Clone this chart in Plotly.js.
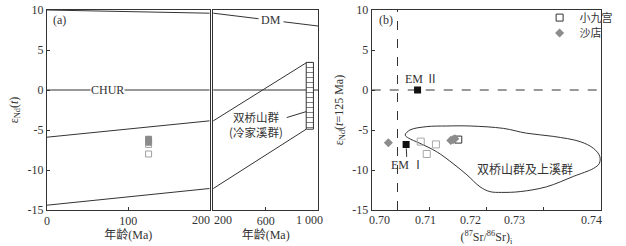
<!DOCTYPE html>
<html>
<head>
<meta charset="utf-8">
<script src="https://cdn.plot.ly/plotly-3.0.1.min.js"></script>
<style>html,body{margin:0;padding:0;background:#fff;}#chart{width:626px;height:246px;}</style>
</head>
<body>
<div id="chart"></div>
<script>
// ---------- data: panel (a) evolution lines ----------
const dmAge = [0, 1000];
const dmEps = [10, 8];
const churAge = [0, 1000];
const churEps = [0, 0];
const upperAge = [0, 910];
const upperEps = [-5.9, 3.4];
const lowerAge = [0, 910];
const lowerEps = [-14.4, -4.9];
const boxAge = [910, 965, 965, 910, 910];
const boxEps = [3.45, 3.45, -4.9, -4.9, 3.45];
const sampleAge = 125;

// ---------- data: samples ----------
const shadianSr = [0.7029, 0.7138, 0.7142, 0.7145];
const shadianEps = [-6.6, -6.3, -6.2, -6.1];
const xjgSr = [0.70855, 0.7112, 0.7096];
const xjgEps = [-6.45, -6.8, -8.0];
const xjgSrDark = [0.7151];
const xjgEpsDark = [-6.2];

// ---------- data: end members & reference lines ----------
const emSr = [0.706, 0.708];
const emEps = [-6.8, 0];
const emLabels = ['EM Ⅰ', 'EM Ⅱ'];
const bseSr = 0.7045;
const srRange = [0.70, 0.74];
const epsRange = [-15, 10];
const ageRangeA = [0, 200];
const ageRangeB = [200, 1000];

// ---------- data: field of 双桥山群及上溪群 ----------
const fieldSr = [0.70584, 0.70667, 0.7096, 0.7131, 0.7172, 0.7230, 0.7270, 0.7317, 0.7364, 0.7387, 0.7398, 0.7397, 0.7387, 0.7352, 0.7305, 0.7259, 0.7227, 0.7206, 0.7189, 0.7166, 0.7142, 0.7113, 0.7084, 0.7064, 0.70584];
const fieldEps = [-5.63, -5.0, -4.58, -4.5, -4.5, -4.8, -5.4, -5.8, -6.46, -7.3, -8.3, -9.2, -9.8, -10.8, -12.1, -12.7, -12.8, -12.7, -12.1, -10.6, -9.2, -7.7, -6.66, -6.0, -5.63];

// ---------- tick labels ----------
const yTickVals = [-15, -10, -5, 0, 5, 10];
const yTickText = ['-15', '-10', '-5', '0', '5', '10'];
const xaTickVals = [0, 100, 200];
const xaTickText = ['0', '100', '200'];
const xbTickVals = [200, 600, 1000];
const xbTickText = ['200', '600', '1 000'];
const srTickVals = [0.70, 0.71, 0.72, 0.73, 0.74];
const srTickText = ['0.70', '0.71', '0.72', '0.73', '0.74'];

const SERIF = 'Liberation Serif, Noto Sans CJK SC, serif';
const CJK = 'Noto Sans CJK SC, sans-serif';
const TXT = '#333';
const LINE = '#333';
const GRAY = '#8c8c8c';

const traces = [];
function lineOn(xa, ya, xs, ys, extra) {
  traces.push(Object.assign({type: 'scatter', mode: 'lines', x: xs, y: ys, xaxis: xa, yaxis: ya,
    line: {color: LINE, width: 1}, showlegend: false, hoverinfo: 'skip'}, extra || {}));
}
[['x', 'y'], ['x2', 'y2']].forEach(([xa, ya]) => {
  lineOn(xa, ya, dmAge, dmEps);
  lineOn(xa, ya, churAge, churEps);
  lineOn(xa, ya, upperAge, upperEps);
  lineOn(xa, ya, lowerAge, lowerEps);
});
traces.push({type: 'scatter', mode: 'lines', x: boxAge, y: boxEps, xaxis: 'x2', yaxis: 'y2',
  fill: 'toself', fillcolor: 'rgba(0,0,0,0)',
  fillpattern: {shape: '-', size: 5, solidity: 0.15, fgcolor: '#555', bgcolor: 'white'},
  line: {color: LINE, width: 1}, showlegend: false, hoverinfo: 'skip'});
traces.push({type: 'scatter', mode: 'markers', x: xjgEps.concat(xjgEpsDark).map(() => sampleAge),
  y: xjgEps.concat(xjgEpsDark), xaxis: 'x', yaxis: 'y', showlegend: false,
  marker: {symbol: 'square-open', size: 6, color: '#a0a0a0', line: {width: 1}}});
traces.push({type: 'scatter', mode: 'markers', x: shadianEps.map(() => sampleAge), y: shadianEps,
  xaxis: 'x', yaxis: 'y', showlegend: false,
  marker: {symbol: 'square', size: 6, color: '#8a8a8a'}});

traces.push({type: 'scatter', mode: 'lines', x: [bseSr, bseSr], y: epsRange, xaxis: 'x3', yaxis: 'y3',
  line: {color: LINE, width: 1, dash: 'dash'}, showlegend: false, hoverinfo: 'skip'});
traces.push({type: 'scatter', mode: 'lines', x: srRange, y: churEps, xaxis: 'x3', yaxis: 'y3',
  line: {color: LINE, width: 1, dash: 'dash'}, showlegend: false, hoverinfo: 'skip'});
traces.push({type: 'scatter', mode: 'lines', x: fieldSr, y: fieldEps, xaxis: 'x3', yaxis: 'y3',
  line: {color: LINE, width: 1, shape: 'spline', smoothing: 1}, showlegend: false, hoverinfo: 'skip'});
traces.push({type: 'scatter', mode: 'markers', x: xjgSr, y: xjgEps, xaxis: 'x3', yaxis: 'y3',
  showlegend: false, marker: {symbol: 'square-open', size: 7, color: '#a8a8a8', line: {width: 1}}});
traces.push({type: 'scatter', mode: 'markers', name: '小九宫', x: xjgSrDark, y: xjgEpsDark, xaxis: 'x3', yaxis: 'y3',
  legend: 'legend', marker: {symbol: 'square-open', size: 7, color: '#333', line: {width: 1}}});
traces.push({type: 'scatter', mode: 'markers', name: '沙店', x: shadianSr, y: shadianEps, xaxis: 'x3', yaxis: 'y3',
  legend: 'legend2', marker: {symbol: 'diamond', size: 7, color: GRAY}});
traces.push({type: 'scatter', mode: 'markers', x: emSr, y: emEps, xaxis: 'x3', yaxis: 'y3', showlegend: false,
  marker: {symbol: 'square', size: 7, color: '#111'}});

const tickFont = {family: SERIF, size: 12, color: TXT};
const axBase = {showline: true, mirror: true, linecolor: LINE, linewidth: 1, showgrid: false, zeroline: false,
  ticks: 'inside', ticklen: 3, tickcolor: LINE, tickangle: 0, tickfont: tickFont};
const yBase = Object.assign({}, axBase, {range: epsRange, tickvals: yTickVals, ticktext: yTickText, domain: [0, 1]});
const titleFont = {family: SERIF, size: 12, color: TXT};

const domA = [0.0751, 0.3347], domB = [0.3407, 0.508], domC = [0.5938, 0.96];

// tick labels that sit off-centre from their tick in the original figure (pixel shift along the axis)
const shiftedLabels = [
  {xref: 'x', yref: 'y domain', val: xaTickVals[2], text: xaTickText[2], shift: -9},
  {xref: 'x2', yref: 'y2 domain', val: xbTickVals[0], text: xbTickText[0], shift: 10},
  {xref: 'x2', yref: 'y2 domain', val: xbTickVals[2], text: xbTickText[2], shift: -9},
  {xref: 'x3', yref: 'y3 domain', val: srTickVals[0], text: srTickText[0], shift: 8},
  {xref: 'x3', yref: 'y3 domain', val: srTickVals[1], text: srTickText[1], shift: -4},
  {xref: 'x3', yref: 'y3 domain', val: srTickVals[2], text: srTickText[2], shift: -16},
  {xref: 'x3', yref: 'y3 domain', val: srTickVals[3], text: srTickText[3], shift: -29},
  {xref: 'x3', yref: 'y3 domain', val: srTickVals[4], text: srTickText[4], shift: -9}
];
const blankShifted = (xref, vals, texts) => texts.map((t, i) =>
  shiftedLabels.some(s => s.xref === xref && s.val === vals[i]) ? '\u00a0' : t);

const layout = {
  width: 626, height: 246,
  margin: {l: 0, r: 0, t: 10, b: 36},
  paper_bgcolor: 'white', plot_bgcolor: 'white',
  showlegend: true,
  xaxis: Object.assign({}, axBase, {domain: domA, range: ageRangeA, tickvals: xaTickVals, anchor: 'y',
    ticktext: blankShifted('x', xaTickVals, xaTickText),
    title: {text: '年龄(Ma)', font: titleFont, standoff: 2}}),
  xaxis2: Object.assign({}, axBase, {domain: domB, range: ageRangeB, tickvals: xbTickVals, anchor: 'y2',
    ticktext: blankShifted('x2', xbTickVals, xbTickText),
    title: {text: '年龄(Ma)', font: titleFont, standoff: 2}}),
  xaxis3: Object.assign({}, axBase, {domain: domC, range: srRange, tickvals: srTickVals, anchor: 'y3',
    ticktext: blankShifted('x3', srTickVals, srTickText),
    title: {text: '(<sup>87</sup>Sr/<sup>86</sup>Sr)<sub>i</sub>', font: titleFont, standoff: 12}}),
  yaxis: Object.assign({}, yBase, {anchor: 'x',
    title: {text: 'ε<sub>Nd</sub>(<i>t</i>)', font: titleFont, standoff: 6}}),
  yaxis2: Object.assign({}, yBase, {anchor: 'x2', showticklabels: false, ticks: ''}),
  yaxis3: Object.assign({}, yBase, {anchor: 'x3',
    title: {text: 'ε<sub>Nd</sub>(<i>t</i>=125 Ma)', font: titleFont, standoff: 6}})
};

const annFont = {family: SERIF, size: 12, color: TXT};
layout.annotations = shiftedLabels.map(s => ({
  xref: s.xref, yref: s.yref, x: s.val, y: 0, yanchor: 'top', yshift: -2, xshift: s.shift,
  text: s.text, showarrow: false, font: tickFont, borderpad: 0
})).concat([
  {xref: 'x domain', yref: 'y domain', x: 0.025, y: 0.95, xanchor: 'left', yanchor: 'middle', text: '(a)', showarrow: false, font: annFont},
  {xref: 'x3 domain', yref: 'y3 domain', x: 0.023, y: 0.95, xanchor: 'left', yanchor: 'middle', text: '(b)', showarrow: false, font: annFont},
  {xref: 'x', yref: 'y', x: 75, y: 0, text: 'CHUR', showarrow: false, bgcolor: 'white', borderpad: 0, font: annFont},
  {xref: 'x2', yref: 'y2', x: 640, y: 8.75, text: 'DM', showarrow: false, bgcolor: 'white', borderpad: 2, font: annFont},
  {xref: 'x2', yref: 'y2', x: 526, y: -4.25, text: '双桥山群<br>(冷家溪群)', showarrow: false,
    font: {family: CJK, size: 11.5, color: TXT}},
  {xref: 'x2', yref: 'y2', x: 910, y: -2.7, axref: 'x2', ayref: 'y2', ax: 750, ay: -3.5, text: '',
    showarrow: true, arrowhead: 0, arrowwidth: 1, arrowcolor: LINE, standoff: 0, startstandoff: 0},
  {xref: 'x3', yref: 'y3', x: emSr[1], y: emEps[1], text: emLabels[1], showarrow: false, yshift: 11, xshift: 4, font: annFont},
  {xref: 'x3', yref: 'y3', x: emSr[0], y: emEps[0], text: emLabels[0], showarrow: true, arrowhead: 0, arrowwidth: 1,
    arrowcolor: LINE, ax: 1, ay: 21, standoff: 4, font: annFont},
  {xref: 'x3', yref: 'y3', x: 0.7268, y: -9.75, text: '双桥山群及上溪群', showarrow: false,
    font: {family: CJK, size: 12, color: TXT}}
]);

const legBase = {xanchor: 'left', yanchor: 'middle', bgcolor: 'rgba(0,0,0,0)',
  font: {family: CJK, size: 11, color: TXT}, itemwidth: 30, borderwidth: 0};
layout.legend = Object.assign({}, legBase, {x: 0.862, y: 0.962});
layout.legend2 = Object.assign({}, legBase, {x: 0.862, y: 0.885});

Plotly.newPlot('chart', traces, layout, {staticPlot: true, displayModeBar: false});
</script>
</body>
</html>
